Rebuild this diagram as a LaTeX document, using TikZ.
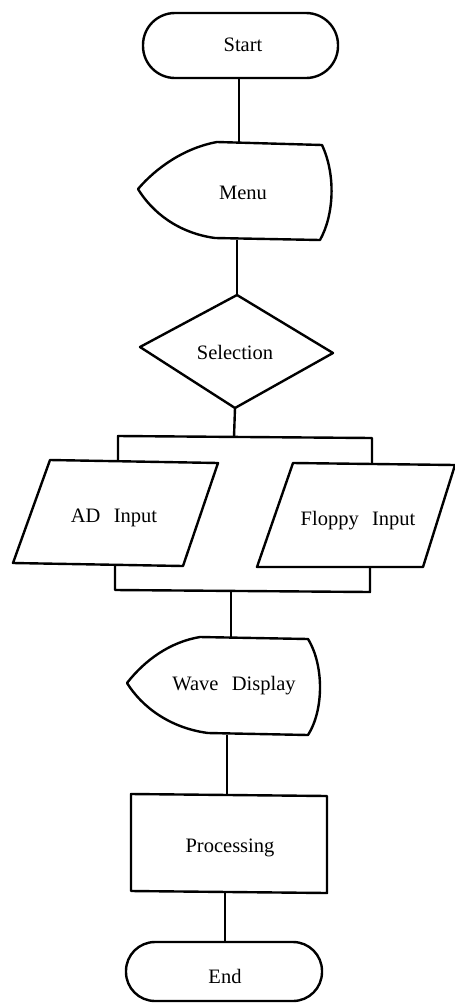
\documentclass[tikz,border=0pt]{standalone}
\usepackage{fontspec}
\setmainfont{Liberation Serif}
\begin{document}
\begin{tikzpicture}[x=1bp, y=-1bp, line width=2.4bp, line join=round,
  lbl/.style={font=\fontsize{20.5bp}{24bp}\selectfont, inner sep=0pt},
  outline/.style={draw, line width=2.4bp},
  flow/.style={draw, line width=2.4bp}]
\useasboundingbox (0,0) rectangle (455,1005);

% --- Start (terminal) ---
\path[outline, rounded corners=32bp] (143,13) rectangle (338,78);
\node[lbl] (start) at (243,45) {Start};
\coordinate (start-s) at (239,78);

% --- Menu (display) ---
\path[outline] (217,142) -- (322,145)
  .. controls (336,175) and (334,215) .. (320,240)
  -- (215,238)
  .. controls (178,233) and (152,212) .. (138,189)
  .. controls (156,168) and (184,148) .. cycle;
\node[lbl] (menu) at (243,193) {Menu};
\coordinate (menu-n) at (239,142);
\coordinate (menu-s) at (237,240);

% --- Selection (decision) ---
\path[outline] (237,295) -- (333,353) -- (235,408) -- (140,347) -- cycle;
\node[lbl] (sel) at (235,352) {Selection};
\coordinate (sel-n) at (237,295);
\coordinate (sel-s) at (235,408);

% --- AD Input (data) ---
\path[outline] (50,460) -- (218,463) -- (183,566) -- (13,563) -- cycle;
\node[lbl] (ad) at (114,518) {AD\hspace{0.4em} Input};
\coordinate (ad-n) at (118,461);
\coordinate (ad-s) at (115,565);

% --- Floppy Input (data) ---
\path[outline] (293,463) -- (455,465) -- (423,567) -- (257,567) -- cycle;
\node[lbl] (fd) at (358,521) {Floppy\hspace{0.4em} Input};
\coordinate (fd-n) at (372,464);
\coordinate (fd-s) at (370,567);

% --- Wave Display (display) ---
\path[outline] (200,637) -- (308,639)
  .. controls (324,665) and (324,710) .. (308,735)
  -- (208,733)
  .. controls (170,728) and (142,707) .. (127,683)
  .. controls (145,660) and (170,642) .. cycle;
\node[lbl] (wave) at (234,686) {Wave\hspace{0.4em} Display};
\coordinate (wave-n) at (231,638);
\coordinate (wave-s) at (227,735);

% --- Processing (process) ---
\path[outline] (131,794) -- (327,796) -- (327,893) -- (131,891) -- cycle;
\node[lbl] (proc) at (230,848) {Processing};
\coordinate (proc-n) at (227,795);
\coordinate (proc-s) at (225,892);

% --- End (terminal) ---
\path[outline, rounded corners=29bp] (126,942) rectangle (322,1001);
\node[lbl] (end) at (225,976) {End};
\coordinate (end-n) at (225,942);

% --- branch and merge brackets ---
\coordinate (split) at (234,437);
\coordinate (split-l) at (118,436);
\coordinate (split-r) at (372,438);
\coordinate (merge) at (231,591);
\coordinate (merge-l) at (115,590);
\coordinate (merge-r) at (370,592);

% --- connectors ---
\path[flow] (start-s) -- (menu-n);
\path[flow] (menu-s) -- (sel-n);
\path[flow] (sel-s) -- (split);
\path[flow] (ad-n) -- (split-l) -- (split-r) -- (fd-n);
\path[flow] (ad-s) -- (merge-l) -- (merge-r) -- (fd-s);
\path[flow] (merge) -- (wave-n);
\path[flow] (wave-s) -- (proc-n);
\path[flow] (proc-s) -- (end-n);
\end{tikzpicture}
\end{document}
